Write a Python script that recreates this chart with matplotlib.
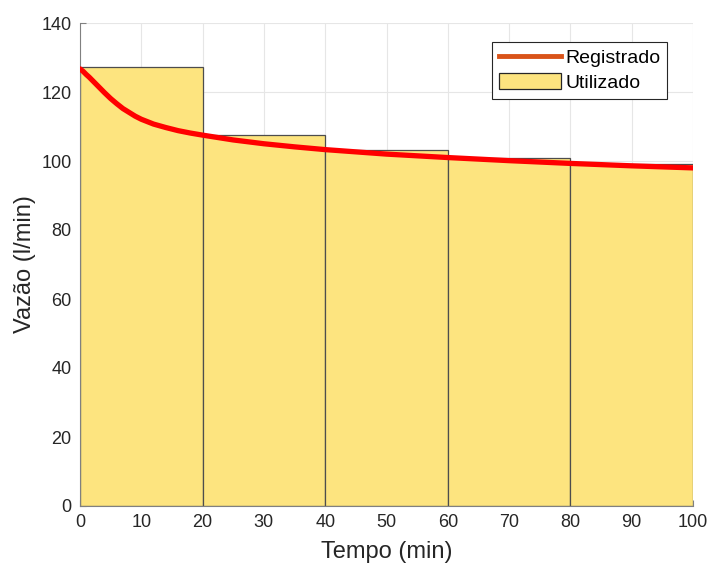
import matplotlib.pyplot as plt
from matplotlib.lines import Line2D
from matplotlib.patches import Patch

plt.rcParams['font.family'] = ['Liberation Sans', 'DejaVu Sans']

# data
bar_left = [0, 20, 40, 60, 80]
bar_width = 20
utilizado = [127.2, 107.5, 103.2, 100.9, 99.1]

tempo = [0, 0.5, 1, 1.5, 2, 3, 4, 5, 6, 7, 8, 9, 10, 12, 14, 16, 18, 20, 25, 30, 35,
         40, 50, 60, 70, 80, 90, 100]
registrado = [126.7, 126.0, 125.1, 124.3, 123.4, 121.6, 119.8, 118.1, 116.6, 115.2, 114.1,
              113.0, 112.1, 110.7, 109.7, 108.8, 108.1, 107.5, 106.1, 105.0, 104.1,
              103.3, 102.0, 101.0, 100.1, 99.3, 98.6, 98.0]

fig = plt.figure(figsize=(7.08, 5.67), dpi=100)
ax = fig.add_axes([80/708, 61/567, 613/708, 483/567])

ax.bar(bar_left, utilizado, bar_width, align='edge', color='#FDE47F',
       edgecolor='#4d4d4d', linewidth=0.9, zorder=2)
ax.plot(tempo, registrado, color='#FF0000', linewidth=3.8, solid_capstyle='round',
        solid_joinstyle='round', zorder=3)

ax.set_xlim(0, 100)
ax.set_ylim(0, 140)
ax.set_xticks(range(0, 101, 10))
ax.set_yticks(range(0, 141, 20))
ax.grid(color='#e6e6e6', linewidth=0.8, zorder=0)
ax.set_axisbelow(True)

for s in ['top', 'right']:
    ax.spines[s].set_visible(False)
for s in ['left', 'bottom']:
    ax.spines[s].set_color('#808080')
    ax.spines[s].set_linewidth(0.8)
ax.tick_params(direction='in', length=4, color='#808080', labelsize=13, labelcolor='#262626', pad=6)

ax.set_xlabel('Tempo (min)', fontsize=17, color='#262626', labelpad=7)
ax.set_ylabel('Vazão (l/min)', fontsize=17, color='#262626', labelpad=4)

handles = [Line2D([0], [0], color='#D95319', linewidth=3.5),
           Patch(facecolor='#FDE47F', edgecolor='#262626', linewidth=0.9)]
leg = ax.legend(handles, ['Registrado', 'Utilizado'], loc='upper right',
                bbox_to_anchor=(0.958, 0.961), borderaxespad=0, fontsize=14,
                fancybox=False, framealpha=1, edgecolor='#262626',
                handlelength=3.2, handleheight=0.9, handletextpad=0.2,
                labelspacing=0.3, borderpad=0.35)
leg.get_frame().set_linewidth(0.8)

fig.savefig('out.png', dpi=100)
